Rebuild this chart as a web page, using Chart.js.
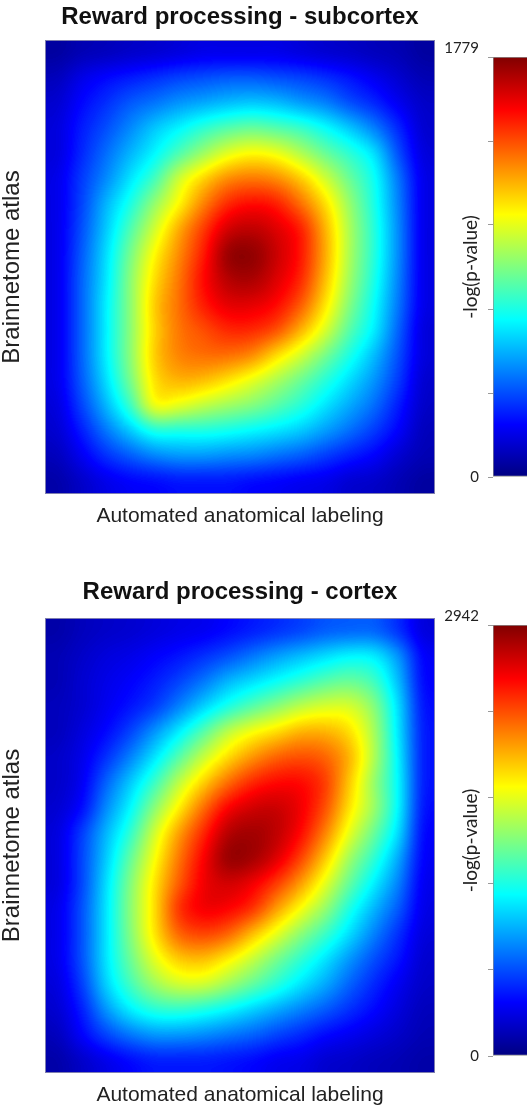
<!DOCTYPE html>
<html>
<head>
<meta charset="utf-8">
<script src="https://cdn.jsdelivr.net/npm/chart.js@4.4.1/dist/chart.umd.min.js"></script>
<style>
html, body { margin: 0; padding: 0; background: #fff; overflow: hidden; width: 527px; height: 1109px; }
canvas { position: absolute; }
</style>
</head>
<body>
<canvas id="h1" width="480" height="530" style="left:0px;top:0px"></canvas>
<canvas id="c1" width="150" height="530" style="left:420px;top:0px"></canvas>
<canvas id="h2" width="480" height="534" style="left:0px;top:575px"></canvas>
<canvas id="c2" width="150" height="534" style="left:420px;top:575px"></canvas>
<script>
// ---------------- data (values in % of colour-bar maximum) ----------------
const xAxisLabel = 'Automated anatomical labeling';
const yAxisLabel = 'Brainnetome atlas';
const colorbarLabel = '-log(p-value)';

const subcortexTitle = 'Reward processing - subcortex';
const subcortexMax = 1779;
const subcortexTicks = [0, 355.8, 711.6, 1067.4, 1423.2, 1779];
// rows top -> bottom (Brainnetome atlas), columns left -> right (AAL)
const subcortexGrid = [
  [3,5,6,7,8,9,10,10,10,10,9,8,7,6,5,3],
  [6,10,13,15,17,19,20,21,21,20,19,17,14,11,8,5],
  [8,13,17,21,24,27,29,31,32,31,28,25,20,16,11,7],
  [9,15,20,26,32,37,42,46,48,46,43,38,32,25,16,8],
  [9,16,23,30,37,45,53,60,63,61,55,48,42,35,20,9],
  [10,18,26,35,44,58,67,74,76,74,68,58,48,39,24,10],
  [10,19,30,40,52,63,75,84,87,85,77,66,52,40,25,10],
  [10,20,32,45,58,71,82,92,94,91,85,70,54,41,26,10],
  [10,21,34,49,63,74,85,98,99,93,86,71,54,41,26,10],
  [10,22,35,51,66,76,87,95,96,91,84,69,53,40,25,10],
  [10,22,36,51,68,77,85,90,90,87,79,65,50,38,24,10],
  [10,22,36,51,67,76,80,84,84,80,70,59,46,36,22,9],
  [10,22,36,51,68,75,77,77,74,66,58,49,40,31,20,9],
  [10,21,34,49,66,70,69,65,60,54,48,41,34,27,18,8],
  [9,19,30,43,62,60,56,53,50,46,41,35,29,23,15,7],
  [8,15,24,32,40,40,40,39,37,35,32,28,23,18,12,6],
  [6,11,17,21,25,27,27,26,25,23,21,18,15,12,8,5],
  [4,7,10,12,13,14,14,14,13,12,11,10,8,7,5,3]
];

const cortexTitle = 'Reward processing - cortex';
const cortexMax = 2942;
const cortexTicks = [0, 588.4, 1176.8, 1765.2, 2353.6, 2942];
const cortexGrid = [
  [4,6,7,8,9,10,11,13,15,17,19,21,22,22,17,9],
  [5,7,9,10,12,14,17,20,24,28,31,34,37,36,27,12],
  [5,8,10,12,15,19,24,30,34,38,42,46,48,44,31,13],
  [6,8,11,14,18,25,33,40,46,51,56,59,59,51,34,14],
  [6,9,13,19,27,36,46,56,62,66,70,70,66,54,35,15],
  [7,10,17,25,35,46,57,66,73,78,80,78,70,55,36,15],
  [7,11,22,32,43,56,67,77,84,87,87,82,68,52,37,15],
  [8,13,26,37,51,64,77,88,92,93,89,80,65,53,37,14],
  [9,18,30,42,58,72,84,95,97,94,87,75,60,48,34,13],
  [9,19,32,47,62,76,88,98,97,91,81,68,53,42,29,12],
  [9,19,34,50,65,79,89,92,89,82,72,60,47,36,25,11],
  [10,20,35,51,66,83,89,88,83,72,62,52,40,30,21,10],
  [10,20,35,50,65,78,81,78,69,60,51,43,34,25,17,9],
  [10,20,35,48,60,68,69,64,57,49,42,35,27,20,14,8],
  [9,18,33,44,53,58,58,53,47,41,35,29,22,16,11,7],
  [8,15,27,36,41,42,40,37,33,29,25,21,17,13,9,6],
  [6,12,19,24,27,27,26,24,22,19,16,13,11,9,7,5],
  [4,7,10,13,15,15,15,14,13,11,10,8,7,6,5,4]
];

// ---------------- helpers ----------------
const SANS = "'Liberation Sans', Arial, Helvetica, sans-serif";
const CB_FONT = "Lato, 'Open Sans', sans-serif";

function jet(t) {
  const c = v => Math.max(0, Math.min(1, v));
  const r = c(1.5 - Math.abs(4 * t - 3));
  const g = c(1.5 - Math.abs(4 * t - 2));
  const b = c(1.5 - Math.abs(4 * t - 1));
  return [Math.round(r * 255), Math.round(g * 255), Math.round(b * 255)];
}

// Draws the dataset cells (value image) inside the x/y scales, rendered like an interpolated image
const heatPlugin = {
  id: 'heat',
  beforeDatasetsDraw(chart) {
    const pts = chart.data.datasets[0].data;
    const xs = chart.scales.x, ys = chart.scales.y;
    const cols = xs.max, rows = ys.max;
    const x0 = xs.getPixelForValue(0), x1 = xs.getPixelForValue(cols);
    const yA = ys.getPixelForValue(0), yB = ys.getPixelForValue(rows);
    const top = Math.min(yA, yB), W = Math.round(Math.abs(x1 - x0)), H = Math.round(Math.abs(yB - yA));
    const src = document.createElement('canvas');
    src.width = cols; src.height = rows;
    const sctx = src.getContext('2d');
    const img = sctx.createImageData(cols, rows);
    pts.forEach(p => {
      const i = Math.floor(p.x), j = Math.floor(p.y);
      const k = (j * cols + i) * 4;
      const g = Math.round(p.v / 100 * 255);
      img.data[k] = g; img.data[k + 1] = g; img.data[k + 2] = g; img.data[k + 3] = 255;
    });
    sctx.putImageData(img, 0, 0);
    const big = document.createElement('canvas');
    big.width = W; big.height = H;
    const bctx = big.getContext('2d');
    bctx.imageSmoothingEnabled = true;
    bctx.imageSmoothingQuality = 'high';
    bctx.drawImage(src, 0, 0, W, H);
    const bd = bctx.getImageData(0, 0, W, H);
    for (let k = 0; k < bd.data.length; k += 4) {
      const c = jet(bd.data[k] / 255);
      bd.data[k] = c[0]; bd.data[k + 1] = c[1]; bd.data[k + 2] = c[2]; bd.data[k + 3] = 255;
    }
    bctx.putImageData(bd, 0, 0);
    const ctx = chart.ctx;
    ctx.save();
    ctx.drawImage(big, Math.round(Math.min(x0, x1)), Math.round(top));
    ctx.strokeStyle = 'rgba(140,140,175,0.9)';
    ctx.lineWidth = 1;
    ctx.strokeRect(Math.round(Math.min(x0, x1)) + 0.5, Math.round(top) + 0.5, W - 1, H - 1);
    ctx.restore();
  }
};

function heatConfig(title, grid, titlePad) {
  const rows = grid.length, cols = grid[0].length;
  const pts = [];
  grid.forEach((row, j) => row.forEach((v, i) => pts.push({ x: i + 0.5, y: j + 0.5, v: v })));
  return {
    type: 'scatter',
    data: { datasets: [{ data: pts, pointRadius: 0, pointHoverRadius: 0, backgroundColor: 'rgba(0,0,0,0)' }] },
    options: {
      responsive: false, animation: false, devicePixelRatio: 1, events: [],
      layout: { padding: 0 },
      plugins: {
        legend: { display: false }, tooltip: { enabled: false },
        title: { display: true, text: title, color: '#111',
          font: { family: SANS, size: 24, weight: 'bold' }, padding: titlePad }
      },
      scales: {
        x: { type: 'linear', min: 0, max: cols,
          ticks: { display: false }, grid: { display: false }, border: { display: false },
          title: { display: true, text: xAxisLabel, color: '#222', font: { family: SANS, size: 21 }, padding: { top: 0, bottom: 1 } },
          afterFit(s) { s.height = 36; } },
        y: { type: 'linear', min: 0, max: rows, reverse: true,
          ticks: { display: false }, grid: { display: false }, border: { display: false },
          title: { display: true, text: yAxisLabel, color: '#222', font: { family: SANS, size: 24, lineHeight: 1 }, padding: { top: 0.5, bottom: 0 } },
          afterFit(s) { s.width = 45; } },
        yr: { type: 'linear', axis: 'y', position: 'right', display: true,
          ticks: { display: false }, grid: { display: false }, border: { display: false },
          afterFit(s) { s.width = 45; } }
      }
    },
    plugins: [heatPlugin]
  };
}

function jetGradient(chart, max) {
  const a = chart.chartArea;
  if (!a) return '#0000ff';
  const y = chart.scales.y;
  const g = chart.ctx.createLinearGradient(0, y.getPixelForValue(0), 0, y.getPixelForValue(max));
  [0, 0.125, 0.375, 0.625, 0.875, 1].forEach(t => {
    const c = jet(t);
    g.addColorStop(t, 'rgb(' + c[0] + ',' + c[1] + ',' + c[2] + ')');
  });
  return g;
}

function colorbarConfig(max, tickValues, padTop, padBottom) {
  return {
    type: 'bar',
    data: { labels: [''], datasets: [{ data: [[0, max]],
      backgroundColor: ctx => jetGradient(ctx.chart, max),
      borderColor: '#8d8d8d', borderWidth: 1, borderSkipped: false,
      barPercentage: 1, categoryPercentage: 1 }] },
    options: {
      responsive: false, animation: false, devicePixelRatio: 1, events: [],
      layout: { padding: { left: 19, right: 10, top: padTop, bottom: padBottom } },
      plugins: { legend: { display: false }, tooltip: { enabled: false }, title: { display: false } },
      scales: {
        x: { display: false },
        y: { type: 'linear', min: 0, max: max,
          afterBuildTicks(s) { s.ticks = tickValues.map(v => ({ value: v })); },
          ticks: { autoSkip: false, padding: 9, color: '#222', font: { family: CB_FONT, size: 15 },
            callback: v => (v === max ? [String(max), ''] : (v === 0 ? '0' : '')) },
          grid: { display: true, drawOnChartArea: false, drawTicks: true, tickLength: 5, color: '#9a9a9a' },
          border: { display: false },
          title: { display: true, text: colorbarLabel, color: '#222', font: { family: CB_FONT, size: 19 }, padding: { top: 20.6, bottom: 0 } },
          afterFit(s) { s.width = 54; } }
      }
    }
  };
}

new Chart(document.getElementById('h1'), heatConfig(subcortexTitle, subcortexGrid, { top: 3.1, bottom: 8.1 }));
new Chart(document.getElementById('c1'), colorbarConfig(subcortexMax, subcortexTicks, 57, 53));
new Chart(document.getElementById('h2'), heatConfig(cortexTitle, cortexGrid, { top: 2.6, bottom: 11.6 }));
new Chart(document.getElementById('c2'), colorbarConfig(cortexMax, cortexTicks, 50, 53));
</script>
</body>
</html>
